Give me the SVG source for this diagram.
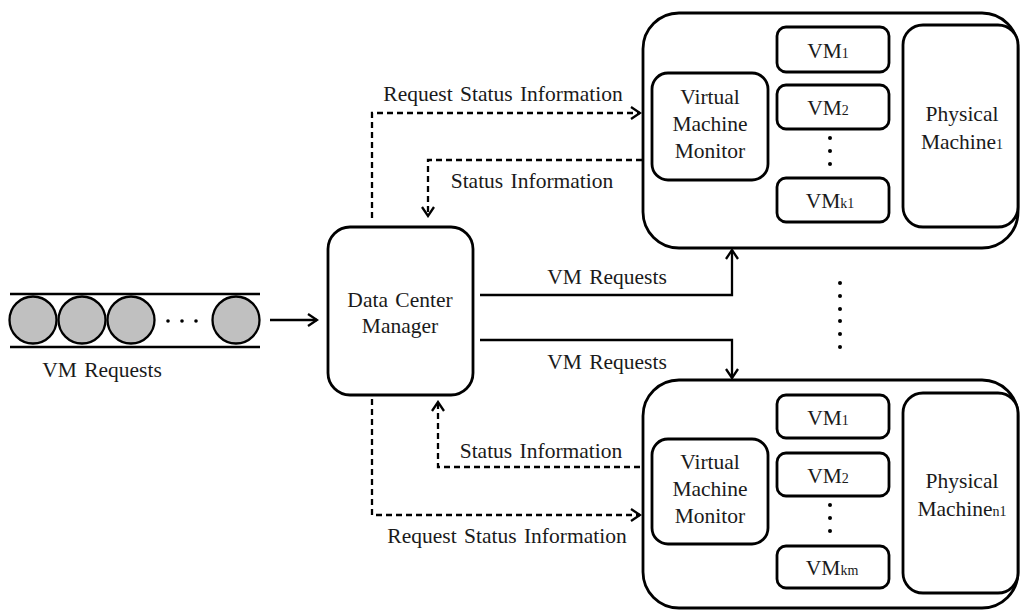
<svg xmlns="http://www.w3.org/2000/svg" width="1020" height="610" viewBox="0 0 1020 610">
<defs>
<style>
.box{fill:#fff;stroke:#000;stroke-width:2.8}
.ibox{fill:#fff;stroke:#000;stroke-width:2.8}
.t{font-family:"Liberation Serif","Times New Roman",serif;font-size:21.5px;fill:#1a1a1a;text-anchor:middle;word-spacing:2px}
.sub{font-size:14px}
.ln{fill:none;stroke:#000;stroke-width:2.3}
.dash{fill:none;stroke:#000;stroke-width:2.3;stroke-dasharray:6,4}
.dot{fill:#000}
.ball{fill:#c0c0c0;stroke:#000;stroke-width:2.3}
</style>
<marker id="ah" markerWidth="12" markerHeight="14" refX="10" refY="7" orient="auto" markerUnits="userSpaceOnUse">
<path d="M1,1 L10,7 L1,13" fill="none" stroke="#000" stroke-width="2.3"/>
</marker>
</defs>
<rect width="1020" height="610" fill="#fff"/>

<g id="queue">
<line class="ln" x1="10" y1="294" x2="260" y2="294"/>
<line class="ln" x1="10" y1="347" x2="260" y2="347"/>
<circle class="ball" cx="33" cy="320" r="23.5"/>
<circle class="ball" cx="82" cy="320" r="23.5"/>
<circle class="ball" cx="131" cy="320" r="23.5"/>
<circle class="ball" cx="236" cy="320" r="23.5"/>
<circle class="dot" cx="168" cy="321" r="1.8"/>
<circle class="dot" cx="182" cy="321" r="1.8"/>
<circle class="dot" cx="196" cy="321" r="1.8"/>
<text class="t" x="102" y="377">VM Requests</text>
</g>

<g id="dcm">
<rect class="box" x="328" y="227" width="145" height="168" rx="22"/>
<text class="t" x="400" y="307">Data Center</text>
<text class="t" x="400" y="333">Manager</text>
</g>

<g id="pm1">
<rect class="box" x="643" y="13" width="375" height="235" rx="36"/>
<rect class="ibox" x="652" y="73" width="116" height="107" rx="16"/>
<text class="t" x="710" y="104">Virtual</text>
<text class="t" x="710" y="131">Machine</text>
<text class="t" x="710" y="158">Monitor</text>
<rect class="ibox" x="777" y="27" width="112" height="45" rx="9"/>
<text class="t" x="828" y="58">VM<tspan class="sub">1</tspan></text>
<rect class="ibox" x="777" y="85" width="112" height="44" rx="9"/>
<text class="t" x="828" y="115">VM<tspan class="sub">2</tspan></text>
<circle class="dot" cx="830" cy="138" r="2"/>
<circle class="dot" cx="830" cy="151" r="2"/>
<circle class="dot" cx="830" cy="164" r="2"/>
<rect class="ibox" x="777" y="178" width="112" height="44" rx="9"/>
<text class="t" x="830" y="208">VM<tspan class="sub">k1</tspan></text>
<rect class="ibox" x="903" y="25" width="115" height="202" rx="20"/>
<text class="t" x="962" y="121">Physical</text>
<text class="t" x="962" y="149">Machine<tspan class="sub">1</tspan></text>
</g>

<g id="pmn">
<rect class="box" x="643" y="380" width="375" height="228" rx="36"/>
<rect class="ibox" x="652" y="439" width="116" height="105" rx="16"/>
<text class="t" x="710" y="469">Virtual</text>
<text class="t" x="710" y="496">Machine</text>
<text class="t" x="710" y="523">Monitor</text>
<rect class="ibox" x="777" y="395" width="112" height="43" rx="9"/>
<text class="t" x="828" y="425">VM<tspan class="sub">1</tspan></text>
<rect class="ibox" x="777" y="453" width="112" height="43" rx="9"/>
<text class="t" x="828" y="483">VM<tspan class="sub">2</tspan></text>
<circle class="dot" cx="830" cy="505" r="2"/>
<circle class="dot" cx="830" cy="518" r="2"/>
<circle class="dot" cx="830" cy="531" r="2"/>
<rect class="ibox" x="777" y="546" width="112" height="42" rx="9"/>
<text class="t" x="832" y="575">VM<tspan class="sub">km</tspan></text>
<rect class="ibox" x="903" y="393" width="115" height="200" rx="20"/>
<text class="t" x="962" y="488">Physical</text>
<text class="t" x="962" y="516">Machine<tspan class="sub">n1</tspan></text>
</g>

<g id="vdots">
<circle class="dot" cx="840" cy="283" r="2"/>
<circle class="dot" cx="840" cy="296" r="2"/>
<circle class="dot" cx="840" cy="309" r="2"/>
<circle class="dot" cx="840" cy="321" r="2"/>
<circle class="dot" cx="840" cy="334" r="2"/>
<circle class="dot" cx="840" cy="347" r="2"/>
</g>

<g id="connectors">
<line class="ln" x1="270" y1="320" x2="317" y2="320" marker-end="url(#ah)"/>
<polyline class="dash" points="372,218 372,113 640,113" marker-end="url(#ah)"/>
<text class="t" x="503" y="101">Request Status Information</text>
<polyline class="dash" points="642,160 428,160 428,216" marker-end="url(#ah)"/>
<text class="t" x="532" y="188">Status Information</text>
<polyline class="ln" points="480,295 732,295 732,250" marker-end="url(#ah)"/>
<text class="t" x="607" y="284">VM Requests</text>
<polyline class="ln" points="480,340 732,340 732,378" marker-end="url(#ah)"/>
<text class="t" x="607" y="369">VM Requests</text>
<polyline class="dash" points="640,467 438,467 438,402" marker-end="url(#ah)"/>
<text class="t" x="541" y="458">Status Information</text>
<polyline class="dash" points="372,399 372,515 640,515" marker-end="url(#ah)"/>
<text class="t" x="507" y="543">Request Status Information</text>
</g>
</svg>
